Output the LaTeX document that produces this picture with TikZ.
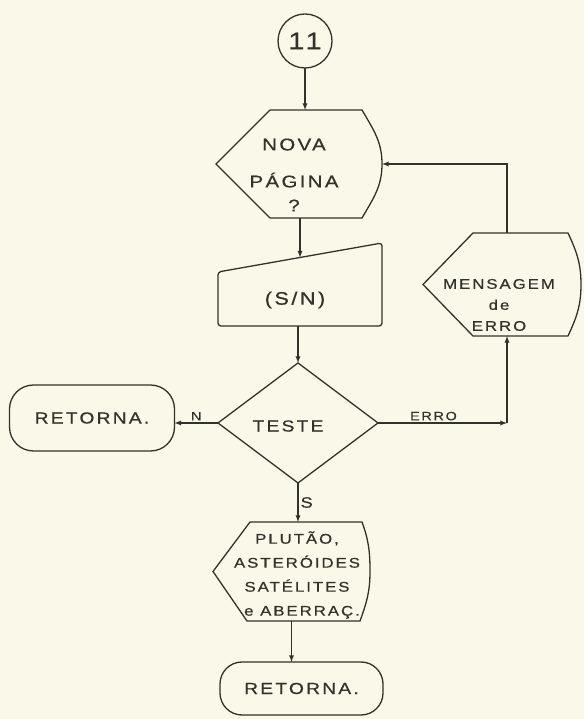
\documentclass[tikz,border=0pt]{standalone}
\usepackage{fontspec}
\setsansfont{Liberation Sans}[FakeStretch=1.2, LetterSpace=14, FakeBold=0.6]
\usetikzlibrary{shapes.geometric}
\definecolor{paper}{RGB}{250,248,232}
\definecolor{ink}{RGB}{50,50,45}

\tikzset{
  line/.style={draw=ink, line width=1.3pt},
  flow/.style={line, ->},
  box/.style={inner sep=0pt, outer sep=0pt},
  txt/.style={font=\sffamily\fontsize{16}{22}\selectfont, text=ink, align=center, inner sep=0pt},
  lbl/.style={font=\sffamily\fontsize{12}{12}\selectfont, text=ink, inner sep=2pt},
}

\begin{document}
\begin{tikzpicture}[x=1pt,y=1pt,>=latex]
			\fill[paper] (0,0) rectangle (584,719);

			% conector de entrada
			\node[box, circle, line, minimum size=54pt, txt, font=\sffamily\fontsize{24}{24}\selectfont] (c11) at (305,678) {11};

			% nova pagina
			\node[box, minimum width=166pt, minimum height=108pt] (nova) at (299,555) {};
			\node[txt, font=\sffamily\fontsize{17}{22}\selectfont] (novatxt) at (294,544) {NOVA\\[15pt]PÁGINA\\[2pt]?};
			\draw[line] (nova.west) -- ([xshift=54pt]nova.north west) -- ([xshift=-20pt]nova.north east)
				to[out=-60,in=90] (nova.east) to[out=-90,in=60] ([xshift=-20pt]nova.south east)
				-- ([xshift=54pt]nova.south west) -- cycle;

			% entrada S/N
			\node[box, minimum width=164pt, minimum height=83pt] (sn) at (300,434.5) {};
			\node[txt, font=\sffamily\fontsize{18}{18}\selectfont] (sntxt) at (295,419) {(S/N)};
			\draw[line, rounded corners=3pt] (sn.south west) -- ([yshift=-29pt]sn.north west) -- (sn.north east) -- (sn.south east) -- cycle;
			\coordinate (sntop) at ([yshift=-14.5pt]sn.north);

			% teste
			\node[diamond, line, box, minimum width=160pt, minimum height=120pt] (teste) at (298,296) {};
			\node[txt] (testetxt) at (288,293) {TESTE};

			% mensagem de erro
			\node[box, minimum width=158pt, minimum height=103pt] (msg) at (502,434.5) {};
			\node[txt, font=\sffamily\fontsize{14}{21}\selectfont] (msgtxt) at (499,414) {MENSAGEM\\de\\ERRO};
			\draw[line] (msg.west) -- ([xshift=50pt]msg.north west) -- ([xshift=-13pt]msg.north east)
				to[out=-65,in=90] (msg.east) to[out=-90,in=65] ([xshift=-13pt]msg.south east)
				-- ([xshift=50pt]msg.south west) -- cycle;

			% retorna (N)
			\node[box, line, rounded corners=24pt, minimum width=165pt, minimum height=66pt, txt] (retl) at (92,301) {RETORNA.};

			% plutao etc
			\node[box, minimum width=157pt, minimum height=99pt] (pluto) at (291.5,147.5) {};
			\node[txt, font=\sffamily\fontsize{14}{24}\selectfont] (plutotxt) at (297,144) {PLUTÃO,\\ASTERÓIDES\\SATÉLITES\\\hspace*{10pt}e ABERRAÇ.};
			\draw[line] (pluto.west) -- ([xshift=37pt]pluto.north west) -- ([xshift=-8pt]pluto.north east)
				to[out=-70,in=90] (pluto.east) to[out=-90,in=70] ([xshift=-10pt]pluto.south east)
				-- ([xshift=34pt]pluto.south west) -- cycle;

			% retorna final
			\node[box, line, rounded corners=22pt, minimum width=163pt, minimum height=53pt, txt] (retb) at (301.5,30.5) {RETORNA.};

			% ligacoes
			\coordinate (ecorner) at (507,296);
			\draw[flow] (c11.south) -- (c11.south |- nova.north);
			\draw[flow] (sntop |- nova.south) -- (sntop);
			\draw[flow] (teste.north |- sn.south) -- (teste.north);
			\draw[flow] (teste.west) -- (teste.west -| retl.east) node[lbl, midway, above] (lbn) {N};
			\draw[flow] (teste.east) -- (ecorner) node[lbl, pos=0.43, above] (lberro) {ERRO};
			\draw[flow] (ecorner) -- (ecorner |- msg.south);
			\draw[flow] (ecorner |- msg.north) -- (ecorner |- nova.east) -- (nova.east);
			\draw[flow] (teste.south) -- (teste.south |- pluto.north) node[lbl, midway, right, font=\sffamily\fontsize{15}{15}\selectfont] (lbs) {S};
			\draw[flow] (pluto.south) -- (pluto.south |- retb.north);
		\end{tikzpicture}
\end{document}
